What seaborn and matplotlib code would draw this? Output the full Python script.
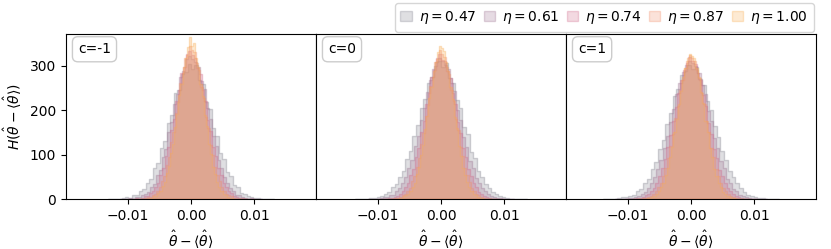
import numpy as np
import pandas as pd
import matplotlib
matplotlib.use("Agg")
import matplotlib.pyplot as plt
from matplotlib.colors import to_rgba
from matplotlib.patches import Patch
import seaborn as sns

# wartości eta i etykiety paneli
etas = [0.47, 0.61, 0.74, 0.87, 1.00]
panels = ["c=-1", "c=0", "c=1"]

# połowa szerokości zakresu binów dla każdego eta w każdym panelu (48 binów)
half_range = {
    "c=-1": [0.0132, 0.0112, 0.0100, 0.0088, 0.0080],
    "c=0": [0.0136, 0.0116, 0.0100, 0.0088, 0.0080],
    "c=1": [0.0140, 0.0120, 0.0104, 0.0092, 0.0084],
}

# zliczenia histogramów
counts_m1 = [
    [0,0,1,0,2,4,3,8,10,18,22,37,45,69,82,114,131,172,190,238,246,282,286,305,
     292,301,268,259,219,204,160,141,104,90,61,52,31,26,14,12,6,5,2,2,1,0,1,0],
    [0,1,0,2,1,4,5,8,12,15,28,34,55,66,95,113,152,174,214,236,276,289,316,322,
     315,309,297,265,247,205,181,143,120,88,71,49,37,25,18,10,8,4,3,1,2,0,0,0],
    [0,0,1,2,1,3,6,7,13,17,27,36,55,70,98,118,155,180,221,245,284,298,327,333,
     324,318,296,281,246,220,179,154,117,97,69,54,36,27,17,13,7,5,2,2,1,1,0,0],
    [0,1,0,1,2,4,5,9,11,19,26,41,52,76,95,128,152,193,219,262,283,318,325,344,
     336,331,306,290,252,227,185,160,121,100,72,55,40,26,19,11,8,6,3,1,1,0,0,0],
    [0,0,1,1,2,3,6,7,13,18,29,38,58,74,103,125,163,191,234,260,298,317,342,366,
     344,352,318,297,260,233,190,164,124,101,73,57,39,28,18,12,8,5,2,2,1,0,0,0],
]
counts_0 = [
    [0,1,0,1,3,2,5,6,12,15,26,33,50,63,90,108,143,166,205,226,262,276,300,311,
     298,306,272,261,224,206,163,146,106,92,62,50,33,25,15,12,6,4,3,1,1,0,1,0],
    [0,0,1,1,2,4,4,8,10,18,24,37,49,70,89,119,142,179,206,241,268,292,309,318,
     312,303,294,262,243,201,179,140,118,86,70,47,37,24,17,11,7,5,2,2,1,0,0,0],
    [0,0,1,1,2,3,5,7,12,17,26,35,53,68,94,116,150,175,214,238,275,291,317,326,
     314,310,288,272,239,214,174,149,114,94,67,52,35,26,16,12,7,4,3,1,1,1,0,0],
    [0,1,0,1,2,3,5,8,11,18,25,40,51,73,92,124,148,187,213,254,275,308,316,335,
     327,321,298,281,245,220,180,155,118,97,70,53,38,25,18,11,8,5,2,1,1,0,0,0],
    [0,0,1,1,2,3,6,8,12,17,28,37,56,72,100,121,158,186,227,253,289,308,331,345,
     340,333,309,288,252,226,184,159,120,98,71,55,38,27,17,12,8,4,2,2,1,0,0,0],
]
counts_p1 = [
    [0,0,1,1,2,4,5,7,10,17,23,36,46,67,84,112,134,170,193,232,249,279,288,302,
     294,297,270,257,221,200,164,139,108,88,64,49,35,24,16,10,7,4,2,2,1,1,0,0],
    [0,0,0,1,3,3,5,7,11,16,25,35,50,67,88,115,141,174,203,236,262,286,301,312,
     306,299,285,258,236,198,176,138,116,85,69,46,36,23,17,10,7,4,3,1,1,0,0,0],
    [0,1,0,1,2,3,5,8,11,17,25,36,51,69,91,117,145,175,208,239,268,290,306,319,
     310,305,285,268,235,210,171,146,112,92,66,51,35,25,17,11,7,5,2,1,1,0,0,0],
    [0,0,1,1,2,3,5,7,12,17,26,37,52,70,93,120,147,182,210,245,268,296,312,324,
     318,312,290,273,239,214,175,150,116,94,68,52,36,25,17,11,7,5,2,1,1,0,0,0],
    [0,0,1,1,2,3,5,7,11,17,26,36,53,70,95,118,150,180,215,244,276,296,318,328,
     322,317,295,276,242,216,176,152,115,94,68,52,37,26,16,11,7,4,2,2,1,0,0,0],
]
counts = {"c=-1": counts_m1, "c=0": counts_0, "c=1": counts_p1}

colors = ["#80808e", "#9c7290", "#d0688a", "#f08e6a", "#f8ac50"]
alpha_fill = 0.25
xlab = r"$\hat{\theta} - \langle\hat{\theta}\rangle$"
ylab = r"$H(\hat{\theta} - \langle\hat{\theta}\rangle)$"

fig, axes = plt.subplots(1, 3, figsize=(8.31, 2.49), dpi=100, sharex=True, sharey=True)
fig.subplots_adjust(left=0.0794, right=0.982, bottom=0.2008, top=0.8635, wspace=0)

for ax, p in zip(axes, panels):
    for i, eta in enumerate(etas):
        h = half_range[p][i]
        c = counts[p][i]
        edges = np.linspace(-h, h, len(c) + 1)
        df = pd.DataFrame({"x": 0.5 * (edges[:-1] + edges[1:]), "w": c})
        sns.histplot(data=df, x="x", weights="w", bins=len(c), binrange=(-h, h),
                     element="step", color=colors[i], alpha=alpha_fill, linewidth=1, ax=ax)
        # krawędź też półprzezroczysta, jak w oryginale
        ax.collections[-1].set_edgecolor(to_rgba(colors[i], 0.35))
    ax.text(0.048, 0.95, p, transform=ax.transAxes, va="top", ha="left", fontsize=10,
            bbox=dict(boxstyle="round,pad=0.4", fc="white", ec="0.8"))
    ax.set_xlabel(xlab)
    ax.set_ylabel("")
    ax.set_xticks([-0.01, 0.0, 0.01])

axes[0].set_ylabel(ylab)
axes[0].set_xlim(-0.0198, 0.0198)
axes[0].set_ylim(0, 372)
axes[0].set_yticks([0, 100, 200, 300])
for ax in axes[1:]:
    ax.tick_params(left=False, labelleft=False)

handles = [Patch(facecolor=to_rgba(colors[i], alpha_fill), edgecolor=to_rgba(colors[i], 0.3))
           for i in range(len(etas))]
labels = [rf"$\eta = {e:.2f}$" for e in etas]
fig.legend(handles, labels, ncol=5, loc="upper right", bbox_to_anchor=(0.984, 1.003),
           fontsize=10, columnspacing=0.55, handlelength=0.8, handleheight=0.8,
           handletextpad=0.5, borderaxespad=0.3)

plt.savefig("out.png", dpi=100)
